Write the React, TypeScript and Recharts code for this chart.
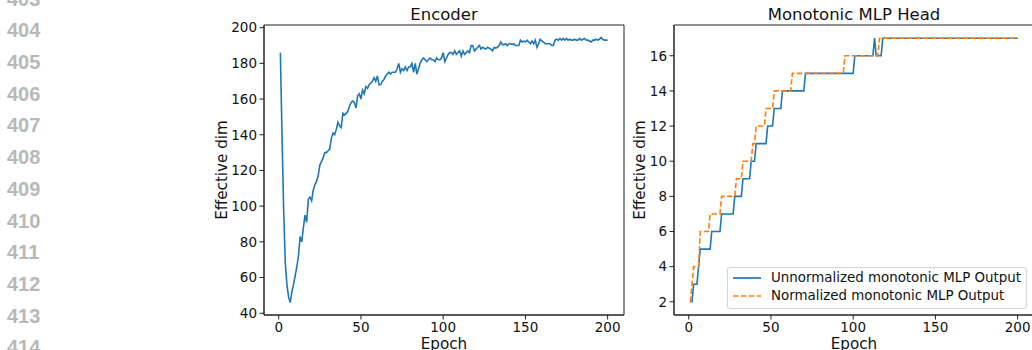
import React from 'react';
import { LineChart, Line, XAxis, YAxis, Legend, ReferenceArea } from 'recharts';

const FONT = '"DejaVu Sans", sans-serif';

// Margin line numbers of the source page
const lineNumbers = ['403', '404', '405', '406', '407', '408', '409', '410', '411', '412', '413', '414'];

const encoderTitle = 'Encoder';
const headTitle = 'Monotonic MLP Head';
const xLabel = 'Epoch';
const yLabel = 'Effective dim';

const xTicks = [0, 50, 100, 150, 200];
const encoderYTicks = [40, 60, 80, 100, 120, 140, 160, 180, 200];
const headYTicks = [2, 4, 6, 8, 10, 12, 14, 16];

const epochs = Array.from({ length: 200 }, (_, i) => i + 1);

const encoderDim = [
  186, 140, 98, 68, 56, 49, 46, 52, 56, 61,
  66, 72, 83, 80, 88, 95, 91, 104, 105, 103,
  109, 112, 114, 117, 123, 125, 127, 130, 130, 131,
  132, 138, 141, 140, 143, 147, 145, 144, 152, 151,
  152, 153, 156, 158, 159, 158, 155, 162, 163, 160,
  165, 163, 167, 166, 168, 169, 170, 172, 170, 173,
  168, 168, 170, 171, 173, 174, 175, 174, 175, 175,
  175, 177, 180, 175, 177, 176, 178, 176, 178, 178,
  180, 175, 180, 174, 177, 180, 182, 183, 182, 181,
  182, 183, 182, 182, 181, 183, 182, 182, 183, 186,
  181, 183, 185, 186, 186, 185, 187, 185, 186, 187,
  184, 187, 185, 186, 187, 186, 190, 190, 187, 188,
  189, 190, 188, 189, 188.5, 188, 189, 188.5, 188, 187,
  189, 188.5, 189, 190, 192, 190.5, 190.5, 191, 190, 191,
  191, 190.5, 191, 190, 190, 190, 193, 192, 192.5, 192,
  193, 192, 191, 192.5, 191, 193, 189, 191, 193.5, 192.5,
  192, 191, 191, 191, 191, 190, 190, 193, 193.5, 193,
  194, 193, 194, 193, 194, 193, 193.5, 193, 193, 193.5,
  193, 193, 194, 193, 193.5, 194, 193, 193, 192.5, 192,
  193, 193, 193.5, 193, 193.5, 194.5, 193.5, 193, 193, 193,
];

const unnormalizedDim = [
  2, 2, 3, 3, 3, 4, 5, 5, 5, 5,
  5, 5, 5, 6, 6, 6, 6, 6, 6, 7,
  7, 7, 7, 7, 7, 7, 7, 8, 8, 8,
  8, 8, 9, 9, 9, 9, 9, 10, 10, 10,
  11, 11, 11, 11, 11, 11, 11, 12, 12, 12,
  12, 13, 13, 13, 13, 13, 14, 14, 14, 14,
  14, 14, 14, 14, 14, 14, 14, 14, 14, 14,
  15, 15, 15, 15, 15, 15, 15, 15, 15, 15,
  15, 15, 15, 15, 15, 15, 15, 15, 15, 15,
  15, 15, 15, 15, 15, 15, 15, 15, 15, 15,
  16, 16, 16, 16, 16, 16, 16, 16, 16, 16,
  16, 16, 17, 16, 16, 16, 16, 17, 17, 17,
  17, 17, 17, 17, 17, 17, 17, 17, 17, 17,
  17, 17, 17, 17, 17, 17, 17, 17, 17, 17,
  17, 17, 17, 17, 17, 17, 17, 17, 17, 17,
  17, 17, 17, 17, 17, 17, 17, 17, 17, 17,
  17, 17, 17, 17, 17, 17, 17, 17, 17, 17,
  17, 17, 17, 17, 17, 17, 17, 17, 17, 17,
  17, 17, 17, 17, 17, 17, 17, 17, 17, 17,
  17, 17, 17, 17, 17, 17, 17, 17, 17, 17,
];

const normalizedDim = [
  2, 3, 4, 4, 4, 4, 6, 6, 6, 6,
  6, 6, 7, 7, 7, 7, 7, 7, 7, 8,
  8, 8, 8, 8, 8, 8, 8, 8, 9, 9,
  9, 9, 10, 10, 10, 10, 10, 10, 11, 11,
  12, 12, 12, 12, 12, 12, 13, 13, 13, 13,
  13, 14, 14, 14, 14, 14, 14, 14, 14, 14,
  14, 14, 15, 15, 15, 15, 15, 15, 15, 15,
  15, 15, 15, 15, 15, 15, 15, 15, 15, 15,
  15, 15, 15, 15, 15, 15, 15, 15, 15, 15,
  15, 15, 15, 15, 16, 16, 16, 16, 16, 16,
  16, 16, 16, 16, 16, 16, 16, 16, 16, 16,
  16, 16, 16, 16, 16, 17, 17, 17, 17, 17,
  17, 17, 17, 17, 17, 17, 17, 17, 17, 17,
  17, 17, 17, 17, 17, 17, 17, 17, 17, 17,
  17, 17, 17, 17, 17, 17, 17, 17, 17, 17,
  17, 17, 17, 17, 17, 17, 17, 17, 17, 17,
  17, 17, 17, 17, 17, 17, 17, 17, 17, 17,
  17, 17, 17, 17, 17, 17, 17, 17, 17, 17,
  17, 17, 17, 17, 17, 17, 17, 17, 17, 17,
  17, 17, 17, 17, 17, 17, 17, 17, 17, 17,
];

const headSeriesOrder = ['unnorm', 'norm'];
const seriesNames: Record<string, string> = {
  unnorm: 'Unnormalized monotonic MLP Output',
  norm: 'Normalized monotonic MLP Output',
};

const BLUE = '#1f77b4';
const ORANGE = '#ff7f0e';
const DASH = '5.5 2.4';
const AXIS = '#222';

const encoderData = epochs.map((e, i) => ({ epoch: e, dim: encoderDim[i] }));
const headData = epochs.map((e, i) => ({ epoch: e, unnorm: unnormalizedDim[i], norm: normalizedDim[i] }));

const X_DOMAIN: [number, number] = [-8.95, 209.95];
const ENC_Y_DOMAIN: [number, number] = [39.0, 201.5];
const HEAD_Y_DOMAIN: [number, number] = [1.25, 17.75];

const tickStyle = { fontSize: 13.5, fill: '#111', fontFamily: FONT };

const titleContent = (text: string) => (p: any) => {
  const vb = p.viewBox || {};
  const cx = vb.x + vb.width / 2;
  return (
    <text x={cx} y={vb.y - 4.7} textAnchor="middle" fontSize={16.5} fill="#111" fontFamily={FONT}>
      {text}
    </text>
  );
};

const yLabelContent = (dx: number) => (p: any) => {
  const vb = p.viewBox || {};
  const cx = vb.x + dx;
  const cy = vb.y + vb.height / 2;
  return (
    <text
      x={cx}
      y={cy}
      dy="0.36em"
      transform={`rotate(-90 ${cx} ${cy})`}
      textAnchor="middle"
      fontSize={15.2}
      fill="#111"
      fontFamily={FONT}
    >
      {yLabel}
    </text>
  );
};

const xLabelContent = (p: any) => {
  const vb = p.viewBox || {};
  return (
    <text x={vb.x + vb.width / 2} y={vb.y + vb.height - 1.4} textAnchor="middle" fontSize={15.2} fill="#111" fontFamily={FONT}>
      {xLabel}
    </text>
  );
};

const dashFor: Record<string, string | undefined> = { unnorm: undefined, norm: DASH };

const renderLegend = (props: any) => {
  const payload = [...(props.payload || [])].sort(
    (a: any, b: any) => headSeriesOrder.indexOf(a.dataKey) - headSeriesOrder.indexOf(b.dataKey)
  );
  return (
    <div
      style={{
        position: 'relative',
        width: 298,
        height: 40,
        border: '1px solid #d4d4d4',
        borderRadius: 3,
        background: 'rgba(255,255,255,0.8)',
        fontFamily: FONT,
        fontSize: 13.4,
        color: '#111',
      }}
    >
      {payload.map((entry: any, i: number) => (
        <div
          key={i}
          style={{ position: 'absolute', left: 5, top: 1.5 + i * 18.3, height: 18, display: 'flex', alignItems: 'center', whiteSpace: 'nowrap' }}
        >
          <svg width={28} height={18} style={{ display: 'block' }}>
            <line x1={0} x2={28} y1={9} y2={9} stroke={entry.color} strokeWidth={1.7} strokeDasharray={dashFor[entry.dataKey]} />
          </svg>
          <span style={{ marginLeft: 10, lineHeight: '18px' }}>{entry.value}</span>
        </div>
      ))}
    </div>
  );
};

export default function App() {
  return (
    <div
      style={{
        position: 'absolute',
        left: 0,
        top: 0,
        width: 1032,
        height: 350,
        overflow: 'hidden',
        background: '#fff',
        fontFamily: FONT,
      }}
    >
      <svg width={60} height={350} style={{ position: 'absolute', left: 0, top: 0 }}>
        {lineNumbers.map((n, i) => (
          <text
            key={n}
            x={7}
            y={5.5 + i * 31.72}
            fontFamily='"Liberation Sans", Arial, sans-serif'
            fontWeight="bold"
            fontSize={20}
            fill="#b8b8b8"
          >
            {n}
          </text>
        ))}
      </svg>

      <div style={{ position: 'absolute', left: 200, top: 0 }}>
        <LineChart width={430} height={350} data={encoderData} margin={{ top: 25, right: 6, bottom: 0, left: 0 }}>
          <XAxis
            dataKey="epoch"
            type="number"
            domain={X_DOMAIN}
            ticks={xTicks}
            allowDataOverflow
            height={35}
            tickSize={4.5}
            tickMargin={2.5}
            stroke={AXIS}
            tick={tickStyle}
            label={{ content: xLabelContent }}
          />
          <YAxis
            type="number"
            domain={ENC_Y_DOMAIN}
            ticks={encoderYTicks}
            allowDataOverflow
            width={64}
            tickSize={4.5}
            tickMargin={2.5}
            stroke={AXIS}
            tick={tickStyle}
            label={{ content: yLabelContent(21.3) }}
          />
          <Line
            dataKey="dim"
            stroke={BLUE}
            strokeWidth={1.6}
            dot={false}
            isAnimationActive={false}
            type="linear"
          />
          <ReferenceArea
            x1={X_DOMAIN[0]}
            x2={X_DOMAIN[1]}
            y1={ENC_Y_DOMAIN[0]}
            y2={ENC_Y_DOMAIN[1]}
            fill="none"
            fillOpacity={0}
            stroke={AXIS}
            strokeWidth={1}
            ifOverflow="visible"
            label={{ content: titleContent(encoderTitle) }}
          />
        </LineChart>
      </div>

      <div style={{ position: 'absolute', left: 620, top: 0 }}>
        <LineChart width={416} height={350} data={headData} margin={{ top: 25, right: 2, bottom: 0, left: 0 }}>
          <XAxis
            dataKey="epoch"
            type="number"
            domain={X_DOMAIN}
            ticks={xTicks}
            allowDataOverflow
            height={35}
            tickSize={4.5}
            tickMargin={2.5}
            stroke={AXIS}
            tick={tickStyle}
            label={{ content: xLabelContent }}
          />
          <YAxis
            type="number"
            domain={HEAD_Y_DOMAIN}
            ticks={headYTicks}
            allowDataOverflow
            width={54}
            tickSize={4.5}
            tickMargin={2.5}
            stroke={AXIS}
            tick={tickStyle}
            label={{ content: yLabelContent(19.6) }}
          />
          <Line
            dataKey="unnorm"
            name={seriesNames.unnorm}
            stroke={BLUE}
            strokeWidth={1.6}
            dot={false}
            isAnimationActive={false}
            type="linear"
          />
          <Line
            dataKey="norm"
            name={seriesNames.norm}
            stroke={ORANGE}
            strokeWidth={1.6}
            strokeDasharray={DASH}
            dot={false}
            isAnimationActive={false}
            type="linear"
          />
          <ReferenceArea
            x1={X_DOMAIN[0]}
            x2={X_DOMAIN[1]}
            y1={HEAD_Y_DOMAIN[0]}
            y2={HEAD_Y_DOMAIN[1]}
            fill="none"
            fillOpacity={0}
            stroke={AXIS}
            strokeWidth={1}
            ifOverflow="visible"
            label={{ content: titleContent(headTitle) }}
          />
          <Legend
            layout="vertical"
            verticalAlign="middle"
            align="center"
            content={renderLegend}
            wrapperStyle={{ left: 107, top: 266.5, width: 300, height: 42 }}
          />
        </LineChart>
      </div>
    </div>
  );
}
